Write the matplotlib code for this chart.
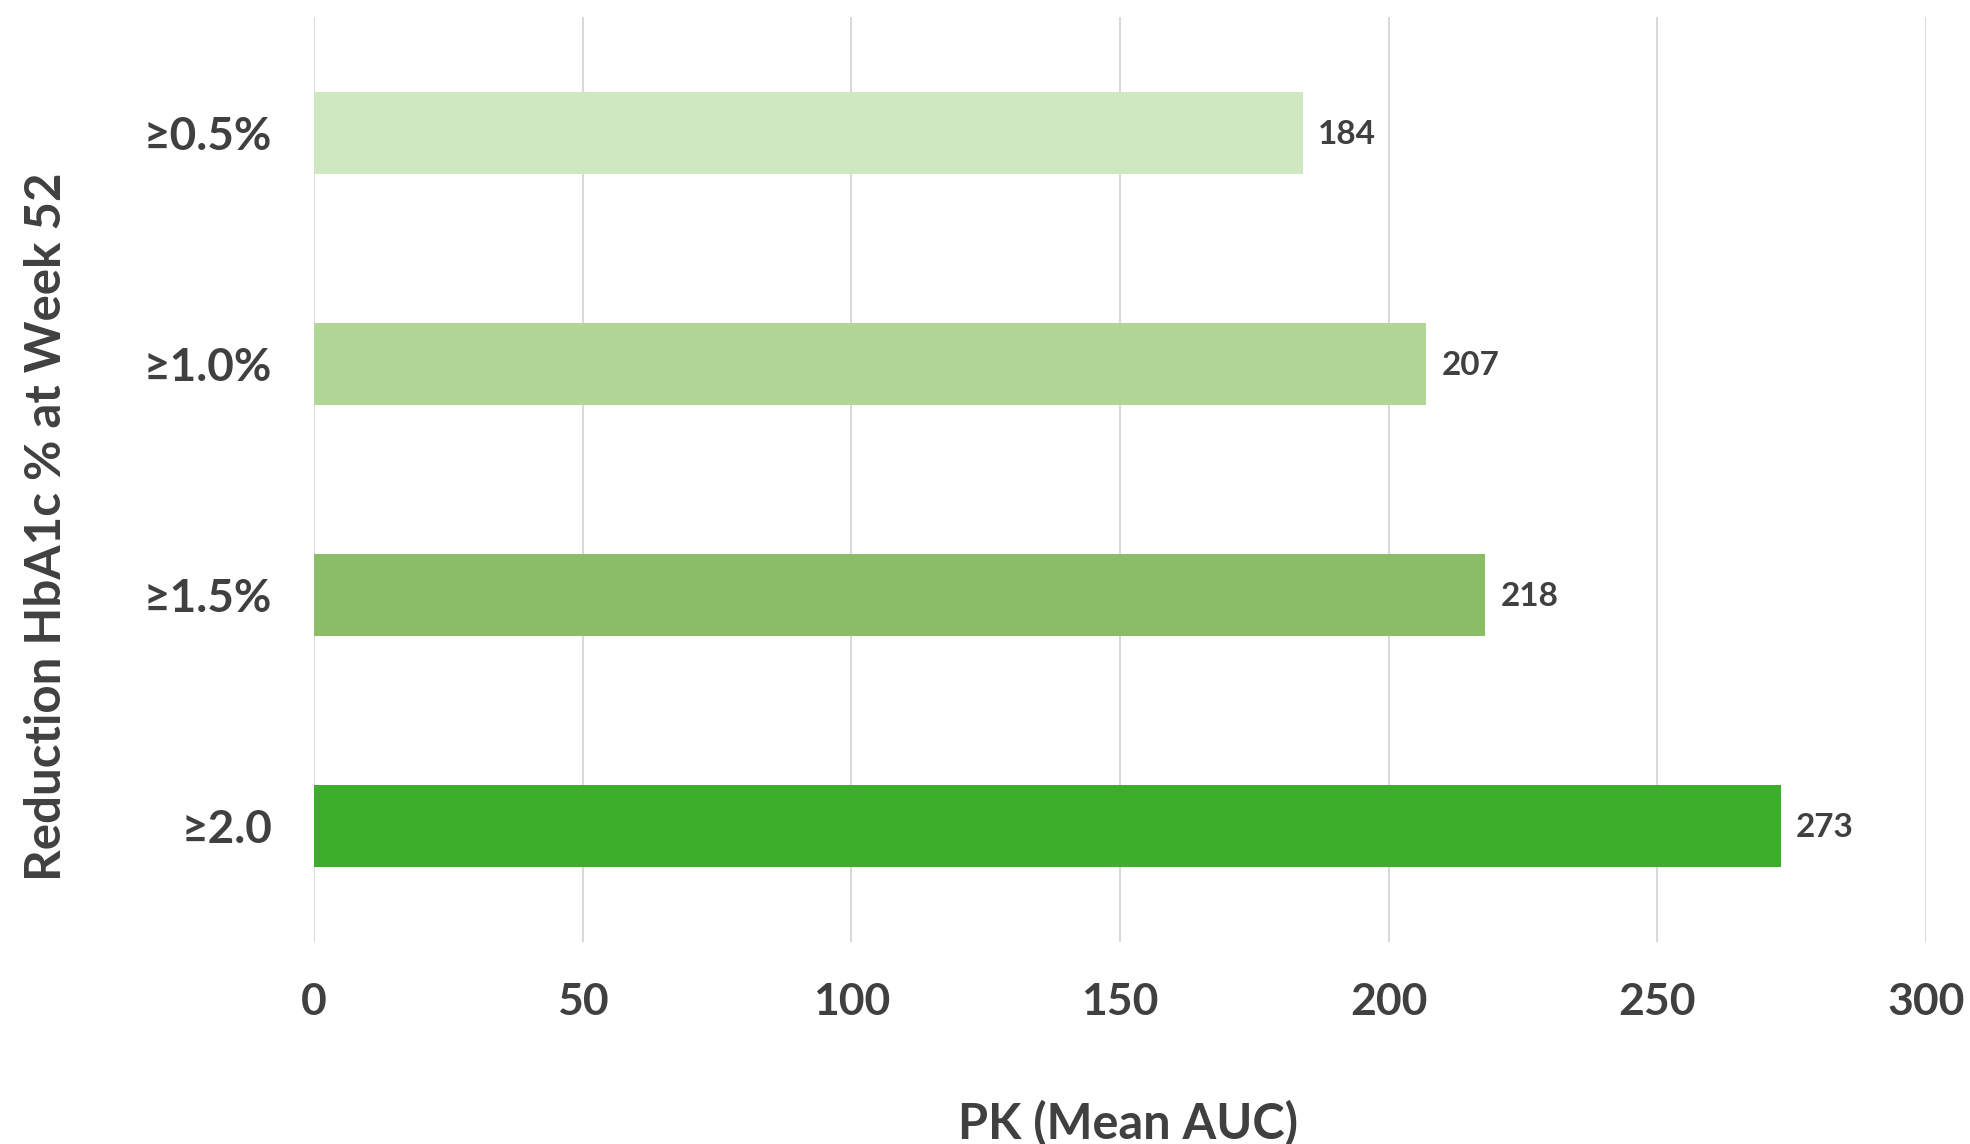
import matplotlib
matplotlib.use("Agg")
import matplotlib.pyplot as plt

# Data
categories = ["≥2.0", "≥1.5%", "≥1.0%", "≥0.5%"]
auc_values = [273, 218, 207, 184]
bar_colors = ["#3dae2b", "#8abd66", "#b1d695", "#d0e8c2"]
x_ticks = [0, 50, 100, 150, 200, 250, 300]

text_color = "#404040"
plt.rcParams["font.family"] = ["Lato", "DejaVu Sans"]
plt.rcParams["font.weight"] = "bold"

fig = plt.figure(figsize=(19.70, 11.44), dpi=100)
ax = fig.add_axes([314 / 1970, 202 / 1144, 1612 / 1970, 925 / 1144])

y_pos = list(range(len(categories)))
ax.barh(y_pos, auc_values, height=0.355, color=bar_colors, zorder=2)

for y, v in zip(y_pos, auc_values):
    ax.annotate(f"{v}", xy=(v, y), xytext=(11, -1), textcoords="offset points",
                ha="left", va="center", fontsize=24, color=text_color,
                fontweight="bold")

ax.set_xlim(0, 300)
ax.set_ylim(-0.5, 3.5)
ax.set_xticks(x_ticks)
ax.set_xticklabels([str(t) for t in x_ticks], fontweight="bold", fontsize=32)
ax.set_yticks(y_pos)
ax.set_yticklabels(categories, fontweight="bold", fontsize=33)

ax.tick_params(axis="both", length=0, colors=text_color)
ax.tick_params(axis="x", pad=29)
ax.tick_params(axis="y", pad=30)

ax.grid(axis="x", color="#d9d9d9", linewidth=1.5, zorder=0)
ax.grid(axis="y", visible=False)
for s in ax.spines.values():
    s.set_visible(False)

ax.set_xlabel("PK (Mean AUC)", fontsize=35, color=text_color, fontweight="bold")
ax.xaxis.set_label_coords(0.505, -0.196)
ax.set_ylabel("Reduction HbA1c % at Week 52", fontsize=35.5, color=text_color,
              fontweight="bold")
ax.yaxis.set_label_coords(-0.166, 0.449)
ax.yaxis.label.set_va("center")
ax.xaxis.label.set_va("center")

fig.savefig("out.png", dpi=100, facecolor="white")
